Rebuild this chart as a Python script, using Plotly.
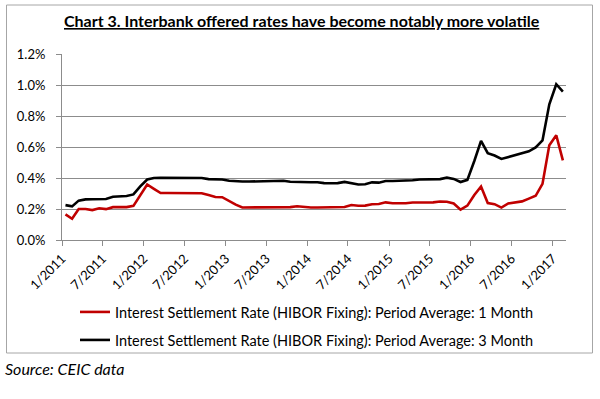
import pandas as pd
import plotly.graph_objects as go

# Monthly observations, Jan 2011 - Feb 2017
months = pd.date_range("2011-01-01", periods=74, freq="MS")

hibor_1m = [
    0.165, 0.137, 0.200, 0.200, 0.193, 0.205, 0.199, 0.212, 0.212, 0.212, 0.220, 0.290,  # 2011
    0.358, 0.330, 0.303, 0.303, 0.303, 0.303, 0.303, 0.303, 0.302, 0.290, 0.277, 0.276,  # 2012
    0.250, 0.228, 0.210, 0.210, 0.210, 0.210, 0.210, 0.210, 0.210, 0.212, 0.218, 0.212,  # 2013
    0.210, 0.210, 0.210, 0.210, 0.211, 0.213, 0.226, 0.221, 0.222, 0.231, 0.232, 0.243,  # 2014
    0.237, 0.237, 0.237, 0.242, 0.242, 0.242, 0.243, 0.248, 0.247, 0.236, 0.196, 0.222,  # 2015
    0.290, 0.345, 0.238, 0.231, 0.209, 0.236, 0.242, 0.249, 0.267, 0.285, 0.362, 0.612,  # 2016
    0.676, 0.514,                                                                        # 2017
]

hibor_3m = [
    0.225, 0.217, 0.254, 0.262, 0.263, 0.263, 0.265, 0.279, 0.280, 0.284, 0.294, 0.346,  # 2011
    0.390, 0.400, 0.402, 0.402, 0.402, 0.402, 0.402, 0.400, 0.400, 0.393, 0.392, 0.390,  # 2012
    0.382, 0.378, 0.377, 0.377, 0.378, 0.383, 0.383, 0.383, 0.382, 0.376, 0.374, 0.374,  # 2013
    0.373, 0.373, 0.367, 0.366, 0.367, 0.375, 0.368, 0.358, 0.360, 0.372, 0.370, 0.381,  # 2014
    0.381, 0.382, 0.383, 0.385, 0.390, 0.390, 0.390, 0.393, 0.402, 0.394, 0.374, 0.388,  # 2015
    0.510, 0.640, 0.560, 0.545, 0.523, 0.535, 0.550, 0.560, 0.572, 0.597, 0.642, 0.875,  # 2016
    1.005, 0.958,                                                                        # 2017
]

series_names = [
    "Interest Settlement Rate (HIBOR Fixing): Period Average: 1 Month",
    "Interest Settlement Rate (HIBOR Fixing): Period Average: 3 Month",
]
title_text = "Chart 3. Interbank offered rates have become notably more volatile"
source_text = "Source: CEIC data"

FONT = "Lato"
GRID = "#8c8c8c"

# plot area in pixels
W, H = 600, 399
L, R, T, B = 62, 566, 54, 240
pw, ph = R - L, B - T


def px(x):
    return (x - L) / pw


def py(y):
    return (B - y) / ph


fig = go.Figure()
fig.add_trace(go.Scatter(
    x=months, y=hibor_1m, name=series_names[0], mode="lines",
    xperiod="M1", xperiodalignment="middle",
    line=dict(color="#C00000", width=2.6), legend="legend",
))
fig.add_trace(go.Scatter(
    x=months, y=hibor_3m, name=series_names[1], mode="lines",
    xperiod="M1", xperiodalignment="middle",
    line=dict(color="#000000", width=2.6), legend="legend2",
))

legend_common = dict(
    orientation="h", xanchor="left", yanchor="middle",
    xref="container", yref="container",
    font=dict(family=FONT, size=14.5, color="#000000"),
    bgcolor="rgba(0,0,0,0)", itemwidth=30, borderwidth=0,
)

fig.update_layout(
    width=W, height=H,
    margin=dict(l=L, r=W - R, t=T, b=H - B, pad=0, autoexpand=False),
    paper_bgcolor="white", plot_bgcolor="white",
    font=dict(family=FONT, size=13, color="#000000"),
    showlegend=True,
    legend=dict(x=75 / W, y=1 - 312 / H, **legend_common),
    legend2=dict(x=75 / W, y=1 - 340 / H, **legend_common),
    xaxis=dict(
        type="date", automargin=False,
        range=["2011-01-01", "2017-03-01"],
        tick0="2011-01-01", dtick="M6", tickformat="%-m/%Y",
        tickangle=-45, ticks="outside", ticklen=5, tickcolor=GRID,
        showline=True, linecolor=GRID, linewidth=1,
        showgrid=False, zeroline=False,
        tickfont=dict(family=FONT, size=13, color="#000000"),
    ),
    yaxis=dict(
        automargin=False,
        range=[0, 1.2], dtick=0.2, tick0=0,
        tickformat=".1f", ticksuffix="%",
        ticks="outside", ticklen=5, tickcolor=GRID,
        showline=True, linecolor=GRID, linewidth=1,
        showgrid=True, gridcolor=GRID, gridwidth=1,
        zeroline=False, ticklabelstandoff=8,
        tickfont=dict(family=FONT, size=13, color="#000000"),
    ),
    shapes=[dict(
        type="rect", xref="paper", yref="paper",
        x0=px(6.5), x1=px(592.5), y0=py(353), y1=py(5),
        line=dict(color="#a6a6a6", width=1), fillcolor="rgba(0,0,0,0)",
        layer="below",
    )],
    annotations=[
        dict(
            text="<b><u>" + title_text + "</u></b>",
            xref="paper", yref="paper", x=px(302), y=py(21),
            xanchor="center", yanchor="middle", showarrow=False,
            font=dict(family=FONT, size=16, color="#000000"),
        ),
        dict(
            text="<i>" + source_text + "</i>",
            xref="paper", yref="paper", x=px(3), y=py(368),
            xanchor="left", yanchor="middle", showarrow=False,
            font=dict(family=FONT, size=16, color="#000000"),
        ),
    ],
)

fig.write_html(
    "out.html",
    config={"displayModeBar": False},
    post_script="document.body.style.margin='0';document.body.style.overflow='hidden';",
)
